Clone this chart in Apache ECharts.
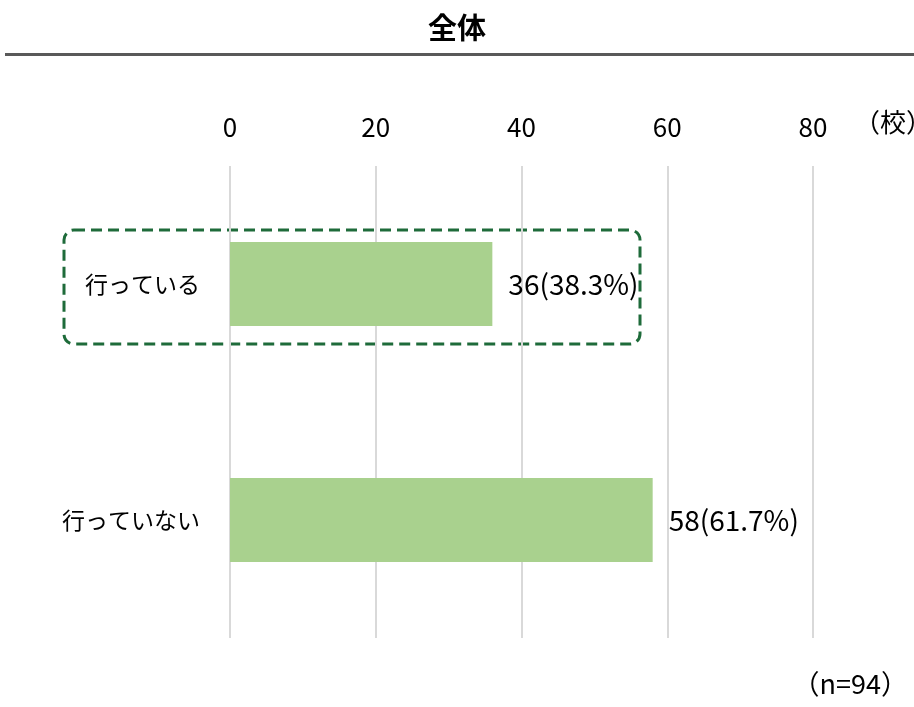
<!DOCTYPE html>
<html>
<head>
<meta charset="utf-8">
<script src="https://cdn.jsdelivr.net/npm/echarts@6/dist/echarts.min.js"></script>
<style>
  html, body { margin: 0; padding: 0; background: #fff; }
  #chart { width: 914px; height: 707px; }
</style>
</head>
<body>
<div id="chart"></div>
<script>
// Survey results: schools doing / not doing the activity
const categories = ['行っている', '行っていない'];
const counts = [36, 58];
const percents = ['38.3', '61.7'];
const axisTicks = [0, 20, 40, 60, 80];
const totalN = 94;

const FONT = '"Noto Sans CJK JP", "Noto Sans", sans-serif';

const chart = echarts.init(document.getElementById('chart'));

chart.setOption({
  animation: false,
  textStyle: { fontFamily: FONT },
  grid: { left: 230, right: 101, top: 166, bottom: 69 },
  xAxis: {
    type: 'value',
    position: 'top',
    min: axisTicks[0],
    max: axisTicks[axisTicks.length - 1],
    interval: axisTicks[1] - axisTicks[0],
    axisLine: { show: false },
    axisTick: { show: false },
    axisLabel: { fontSize: 26, color: '#000', margin: 26, fontFamily: FONT },
    splitLine: { lineStyle: { color: '#d9d9d9', width: 2 } }
  },
  yAxis: {
    type: 'category',
    data: categories,
    inverse: true,
    axisLine: { show: false },
    axisTick: { show: false },
    axisLabel: { fontSize: 23, color: '#000', margin: 30, fontFamily: FONT }
  },
  series: [{
    type: 'bar',
    data: counts,
    barWidth: '35.6%',
    itemStyle: { color: '#a9d18e' },
    label: {
      show: true,
      position: 'right',
      distance: 16,
      fontSize: 28,
      color: '#000',
      fontFamily: FONT,
      formatter: p => p.value + '(' + percents[p.dataIndex] + '%)'
    }
  }],
  graphic: [
    {
      type: 'text',
      left: 'center',
      top: 13,
      style: { text: '全体', font: 'bold 29px ' + FONT, fill: '#000' }
    },
    {
      type: 'rect',
      shape: { x: 5, y: 53, width: 909, height: 3 },
      style: { fill: '#595959' }
    },
    {
      type: 'text',
      x: 854,
      y: 109,
      style: { text: '（校）', font: '26px ' + FONT, fill: '#000' }
    },
    {
      type: 'rect',
      shape: { x: 64, y: 230, width: 576, height: 114, r: 10 },
      style: { fill: 'none', stroke: '#1e6b3a', lineWidth: 3, lineDash: [11, 6] }
    },
    {
      type: 'text',
      right: 6,
      top: 670,
      style: { text: '（n=' + totalN + '）', font: '27px ' + FONT, fill: '#000' }
    }
  ]
});
</script>
</body>
</html>
